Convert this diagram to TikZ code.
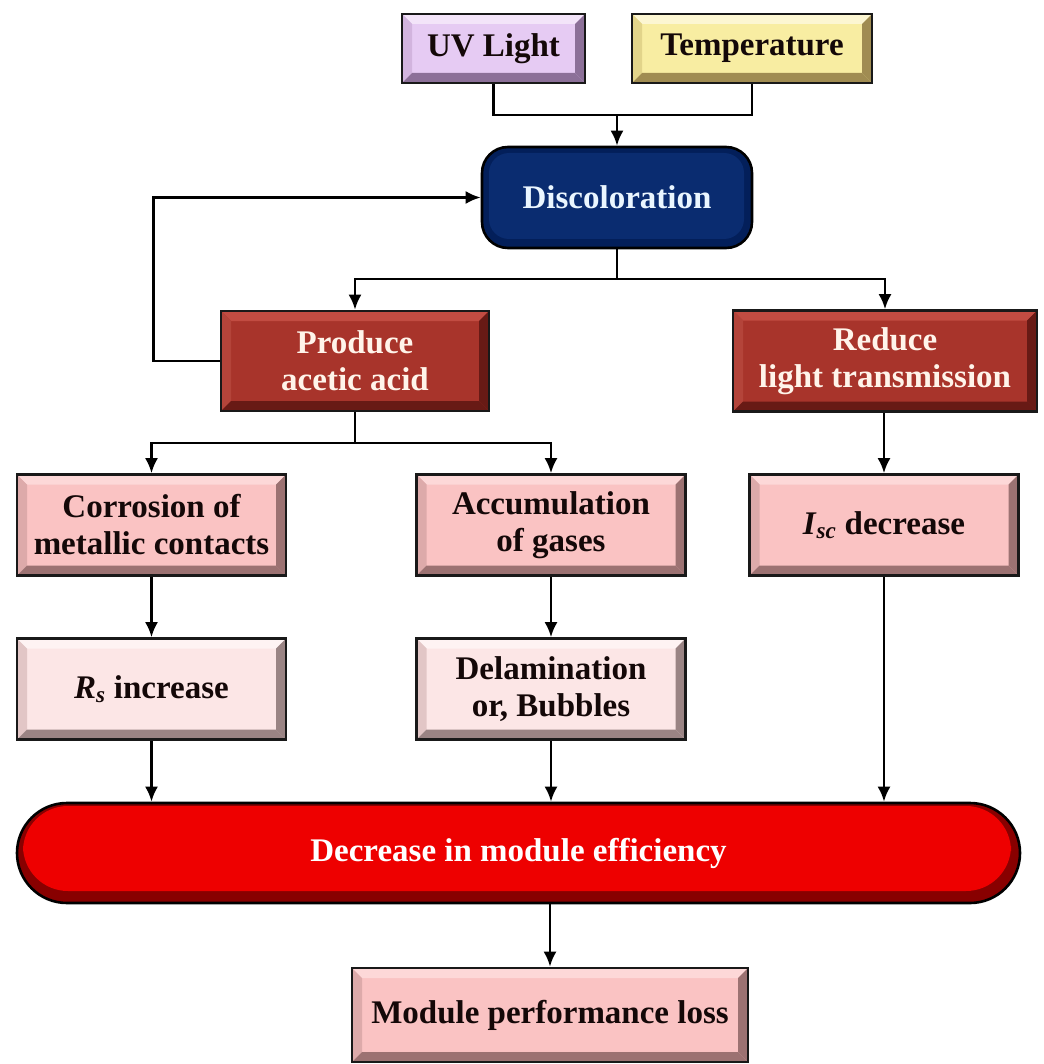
\documentclass[tikz,border=0pt]{standalone}
\usepackage{fontspec}
\setmainfont{Liberation Serif}
\usetikzlibrary{arrows.meta,calc}
\definecolor{uvF}{HTML}{E6CBF3}
\definecolor{uvL}{HTML}{F3E4F9}
\definecolor{uvM}{HTML}{D2B4DE}
\definecolor{uvD}{HTML}{8C7098}
\definecolor{tpF}{HTML}{F8EDA2}
\definecolor{tpL}{HTML}{FCF6D2}
\definecolor{tpM}{HTML}{E2D48A}
\definecolor{tpD}{HTML}{A08C52}
\definecolor{brF}{HTML}{A8342B}
\definecolor{brL}{HTML}{C24C42}
\definecolor{brM}{HTML}{B4443A}
\definecolor{brD}{HTML}{681A15}
\definecolor{pkF}{HTML}{FAC3C3}
\definecolor{pkL}{HTML}{FDD8D8}
\definecolor{pkM}{HTML}{DDAAAA}
\definecolor{pkD}{HTML}{9C7272}
\definecolor{lpF}{HTML}{FCE6E6}
\definecolor{lpL}{HTML}{FEF3F3}
\definecolor{lpM}{HTML}{E2C6C6}
\definecolor{lpD}{HTML}{9A8484}
\definecolor{navyO}{HTML}{031F5A}
\definecolor{navyI}{HTML}{0A2C70}
\definecolor{discT}{HTML}{EAF6FF}
\definecolor{redI}{HTML}{EE0000}
\definecolor{redD}{HTML}{880000}
\definecolor{whT}{HTML}{FFF4EA}
\definecolor{blT}{HTML}{140808}
\tikzset{
  txt/.style={inner sep=0pt, align=center, font=\fontsize{33}{37}\selectfont\bfseries},
  bx/.style n args={4}{txt, draw=black!90, line width=2.6pt, fill=#1,
    path picture={
      \coordinate (pNW) at (path picture bounding box.north west);
      \coordinate (pNE) at (path picture bounding box.north east);
      \coordinate (pSW) at (path picture bounding box.south west);
      \coordinate (pSE) at (path picture bounding box.south east);
      \fill[#2] (pNW) -- (pNE) -- ([shift={(-10pt,-10pt)}]pNE) -- ([shift={(10pt,-10pt)}]pNW) -- cycle;
      \fill[#3] (pNW) -- ([shift={(10pt,-10pt)}]pNW) -- ([shift={(10pt,10pt)}]pSW) -- (pSW) -- cycle;
      \fill[#4] (pNE) -- (pSE) -- ([shift={(-10pt,10pt)}]pSE) -- ([shift={(-10pt,-10pt)}]pNE) -- cycle;
      \fill[#4] (pSW) -- (pSE) -- ([shift={(-10pt,10pt)}]pSE) -- ([shift={(10pt,10pt)}]pSW) -- cycle;
    }},
  uvbox/.style={bx={uvF}{uvL}{uvM}{uvD}, text=blT},
  tpbox/.style={bx={tpF}{tpL}{tpM}{tpD}, text=blT},
  brbox/.style={bx={brF}{brL}{brM}{brD}, text=whT},
  pkbox/.style={bx={pkF}{pkL}{pkM}{pkD}, text=blT},
  lpbox/.style={bx={lpF}{lpL}{lpM}{lpD}, text=blT},
  discbox/.style={txt, draw=black, line width=2.6pt, rounded corners=26pt, fill=navyO, text=discT,
    path picture={
      \fill[navyI, rounded corners=20pt] ([shift={(7pt,-6pt)}]path picture bounding box.north west) rectangle ([shift={(-8pt,9pt)}]path picture bounding box.south east);
    }},
  effbox/.style={txt, draw=black, line width=2.6pt, rounded corners=50pt, fill=redD, text=white,
    path picture={
      \fill[redI, rounded corners=45pt] ([shift={(6pt,-3pt)}]path picture bounding box.north west) rectangle ([shift={(-9pt,12pt)}]path picture bounding box.south east);
    }},
  ln/.style={line width=2.6pt, draw=black},
  arr/.style={ln, -{Latex[length=15pt,width=13pt]}},
}
\begin{document}
\begin{tikzpicture}[x=1pt,y=-1pt]
\useasboundingbox (0,0) rectangle (1043,1064);
\node[uvbox, minimum width=183pt, minimum height=69pt] (uv) at (493.5,48.5) {UV Light};
\node[tpbox, minimum width=240pt, minimum height=69pt] (temp) at (752,48.5) {Temperature};
\node[discbox, minimum width=270pt, minimum height=101pt] (disc) at (617,197.5) {Discoloration};
\node[brbox, minimum width=268pt, minimum height=100pt] (prod) at (355,361) {Produce\\acetic acid};
\node[brbox, minimum width=304pt, minimum height=101pt] (redu) at (885,361) {Reduce\\light transmission};
\node[pkbox, minimum width=269pt, minimum height=101pt] (cor) at (151.5,525) {Corrosion of\\metallic contacts};
\node[pkbox, minimum width=269pt, minimum height=101pt] (acc) at (551,525) {Accumulation\\of gases};
\node[pkbox, minimum width=269pt, minimum height=101pt] (isc) at (884,525) {\textit{I}\textsubscript{\textit{sc}} decrease};
\node[lpbox, minimum width=269pt, minimum height=101pt] (rs) at (151.5,689) {\textit{R}\textsubscript{\textit{s}} increase};
\node[lpbox, minimum width=269pt, minimum height=101pt] (del) at (551,689) {Delamination\\or, Bubbles};
\node[effbox, minimum width=1003pt, minimum height=100pt] (eff) at (518.5,853) {Decrease in module efficiency};
\node[pkbox, minimum width=396pt, minimum height=94pt] (mod) at (550,1015) {Module performance loss};

\coordinate (j1) at (617,115);
\coordinate (j2) at (617,279);
\coordinate (j3) at (355,443);
\draw[ln] (uv.south) |- (j1);
\draw[ln] (temp.south) |- (j1);
\draw[arr] (j1) -- (disc.north);
\draw[ln] (disc.south) -- (j2);
\draw[arr] (j2) -| (prod.north);
\draw[arr] (j2) -| (redu.north);
\draw[arr] (prod.west) -- ++(-66,0) |- (disc.west);
\draw[ln] (prod.south) -- (j3);
\draw[arr] (j3) -| (cor.north);
\draw[arr] (j3) -| (acc.north);
\draw[arr] (cor.south) -- (rs.north);
\draw[arr] (acc.south) -- (del.north);
\draw[arr] (redu.south -| isc.north) -- (isc.north);
\draw[arr] (rs.south) -- (rs.south |- eff.north);
\draw[arr] (del.south) -- (del.south |- eff.north);
\draw[arr] (isc.south) -- (isc.south |- eff.north);
\draw[arr] (mod.north |- eff.south) -- (mod.north);
\end{tikzpicture}
\end{document}
